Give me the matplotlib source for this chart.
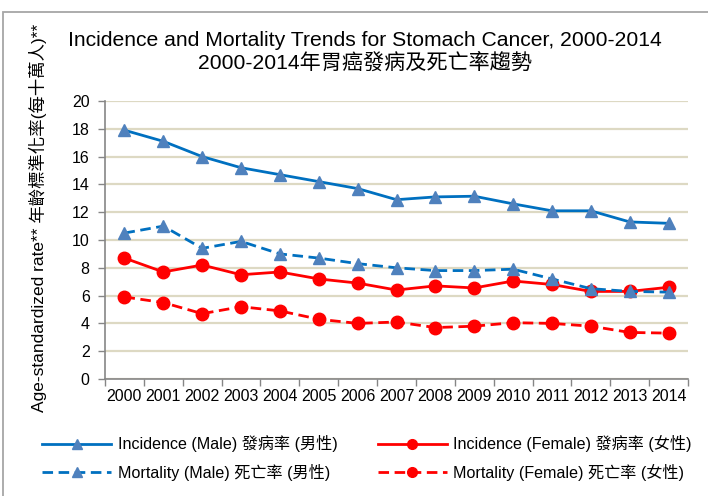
import matplotlib
matplotlib.use("Agg")
import matplotlib.pyplot as plt
from matplotlib.patches import Rectangle

plt.rcParams['font.family'] = ['Liberation Sans', 'Noto Sans CJK TC', 'DejaVu Sans']

years = ["2000", "2001", "2002", "2003", "2004", "2005", "2006", "2007",
         "2008", "2009", "2010", "2011", "2012", "2013", "2014"]
incidence_male = [17.9, 17.1, 16.0, 15.2, 14.7, 14.2, 13.7, 12.9, 13.1, 13.15, 12.6, 12.1, 12.1, 11.3, 11.2]
mortality_male = [10.5, 11.0, 9.4, 9.9, 9.0, 8.7, 8.3, 8.0, 7.8, 7.8, 7.9, 7.2, 6.5, 6.3, 6.25]
incidence_female = [8.7, 7.7, 8.2, 7.5, 7.7, 7.2, 6.9, 6.4, 6.7, 6.55, 7.05, 6.8, 6.3, 6.3, 6.6]
mortality_female = [5.9, 5.5, 4.7, 5.2, 4.9, 4.3, 4.0, 4.1, 3.7, 3.8, 4.05, 4.0, 3.8, 3.35, 3.3]
yticks = [0, 2, 4, 6, 8, 10, 12, 14, 16, 18, 20]

W, H = 708, 496
fig = plt.figure(figsize=(W / 100, H / 100), dpi=100)
ax = fig.add_axes([105 / W, 1 - 379 / H, (688 - 105) / W, (379 - 101) / H])

x = list(range(len(years)))
blue = '#0070C0'
mblue = '#4F81BD'
red = '#FF0000'
dash = (0, (3.8, 2.0))

ax.plot(x, incidence_male, color=blue, lw=2, marker='^', ms=9,
        mfc=mblue, mec=mblue, label='Incidence (Male) 發病率 (男性)')
ax.plot(x, incidence_female, color=red, lw=2, marker='o', ms=9,
        mfc=red, mec=red, label='Incidence (Female) 發病率 (女性)')
ax.plot(x, mortality_male, color=blue, lw=2, ls=dash, marker='^', ms=9,
        mfc=mblue, mec=mblue, label='Mortality (Male) 死亡率 (男性)')
ax.plot(x, mortality_female, color=red, lw=2, ls=dash, marker='o', ms=9,
        mfc=red, mec=red, label='Mortality (Female) 死亡率 (女性)')

ax.set_xlim(-0.5, len(years) - 0.5)
ax.set_ylim(0, 20)
ax.set_yticks(yticks)
ax.set_yticklabels([str(v) for v in yticks], fontsize=11.5)
ax.yaxis.grid(True, color='#DDD9C3', lw=1.6)
ax.set_axisbelow(True)

ax.set_xticks([i - 0.5 for i in range(len(years) + 1)])
ax.set_xticklabels([])
ax.set_xticks(x, minor=True)
ax.set_xticklabels(years, minor=True, fontsize=11.5)
ax.tick_params(axis='x', which='minor', length=0, pad=7)
ax.tick_params(axis='x', which='major', length=5, color='#868686', width=1)
ax.tick_params(axis='y', length=5, color='#868686', width=1, pad=6)

for s in ['top', 'right']:
    ax.spines[s].set_visible(False)
for s in ['left', 'bottom']:
    ax.spines[s].set_color('#868686')
    ax.spines[s].set_linewidth(1.2)

ax.set_ylabel('Age-standardized rate** 年齡標準化率(每十萬人)**', fontsize=12.5)
ax.yaxis.set_label_coords(-0.1, 0.58)

fig.text(365 / W, 1 - 40 / H, 'Incidence and Mortality Trends for Stomach Cancer, 2000-2014',
         ha='center', va='center', fontsize=15.2)
fig.text(365 / W, 1 - 63 / H, '2000-2014年胃癌發病及死亡率趨勢',
         ha='center', va='center', fontsize=15.2)

handles, labels = ax.get_legend_handles_labels()
order = [0, 2, 1, 3]
leg = fig.legend([handles[i] for i in order], [labels[i] for i in order],
                 loc='center', bbox_to_anchor=(367 / W, 1 - 458 / H), ncol=2,
                 frameon=False, fontsize=11.6,
                 handlelength=4.3, columnspacing=2.5,
                 labelspacing=0.7, handletextpad=0.4)
for h in leg.legend_handles:
    h.set_markersize(7)

fig.add_artist(Rectangle((3 / W, -0.5), 2, 0.5 + 1 - 12 / H, transform=fig.transFigure,
                         fill=False, edgecolor='#A6A6A6', lw=1.3))

fig.savefig('out.png', dpi=100)
